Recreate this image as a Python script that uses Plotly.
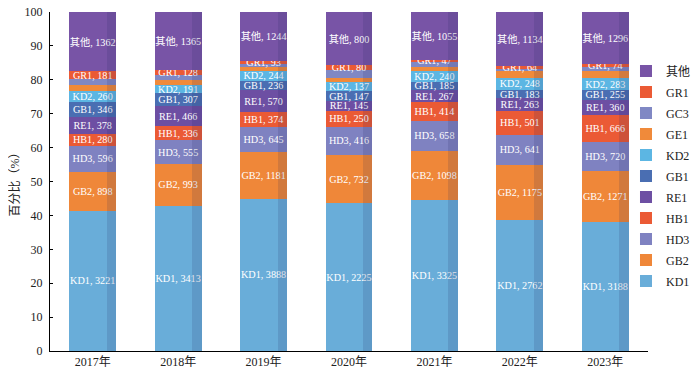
import plotly.graph_objects as go

years = ["2017年", "2018年", "2019年", "2020年", "2021年", "2022年", "2023年"]

KD1 = [3221, 3413, 3888, 2225, 3325, 2762, 3188]
GB2 = [898, 993, 1181, 732, 1098, 1175, 1271]
HD3 = [596, 555, 645, 416, 658, 641, 720]
HB1 = [280, 336, 374, 250, 414, 501, 666]
RE1 = [378, 466, 570, 145, 267, 263, 360]
GB1 = [346, 307, 236, 147, 185, 183, 255]
KD2 = [260, 191, 244, 137, 240, 248, 283]
GE1 = [135, 115, 100, 60, 80, 140, 170]
GC3 = [140, 110, 70, 115, 120, 60, 100]
GR1 = [181, 128, 93, 80, 47, 64, 74]
OTHER = [1362, 1365, 1244, 800, 1055, 1134, 1296]

series = [
    ("KD1", KD1, "#69ADD9", True),
    ("GB2", GB2, "#EF8739", True),
    ("HD3", HD3, "#7F82C1", True),
    ("HB1", HB1, "#EB5A35", True),
    ("RE1", RE1, "#6D4FA3", True),
    ("GB1", GB1, "#4A6EB2", True),
    ("KD2", KD2, "#5CB6E3", True),
    ("GE1", GE1, "#F08A3A", False),
    ("GC3", GC3, "#8088C4", False),
    ("GR1", GR1, "#EB5A35", True),
    ("其他", OTHER, "#7854A6", True),
]

FONT = "Liberation Serif, Times New Roman, Noto Sans CJK SC, serif"

fig = go.Figure()
for i, (name, vals, color, labeled) in enumerate(series):
    fig.add_trace(go.Bar(
        x=years, y=vals, name=name, legendgroup=name,
        legendrank=1000 - i,
        marker=dict(color=color, line=dict(width=0)),
        text=[f"{name}, {v}" for v in vals] if labeled else None,
        textposition="inside" if labeled else "none",
        insidetextanchor="middle",
        textangle=0,
        constraintext="none",
        textfont=dict(color="white", size=10.2, family=FONT),
        width=0.55,
        hoverinfo="skip",
    ))

# darker strip on the right side of each bar (shading effect)
shade = [1] * len(years)
fig.add_trace(go.Bar(
    x=years, y=shade, xaxis="x2", yaxis="y2",
    marker=dict(color="rgba(25,35,95,0.14)", line=dict(width=0)),
    width=0.112, offset=0.163, showlegend=False, hoverinfo="skip",
))

# page body has an 8px default margin, so the figure is sized to fit the window
fig.update_layout(
    width=692, height=364,
    margin=dict(l=42, r=52, t=4, b=21, autoexpand=False),
    barmode="stack", barnorm="percent",
    plot_bgcolor="white", paper_bgcolor="white",
    font=dict(family=FONT, size=12, color="#222"),
    showlegend=True,
    legend=dict(
        x=0.9632, xanchor="left", y=0.869, yanchor="top",
        traceorder="grouped",
        font=dict(size=12, family=FONT, color="#222"),
        bgcolor="rgba(0,0,0,0)",
        tracegroupgap=2,
    ),
    xaxis=dict(
        type="category", range=[-0.5, 6.5],
        showline=True, linecolor="black", linewidth=1,
        ticks="", showgrid=False, zeroline=False, automargin=False,
        tickfont=dict(size=12, family=FONT, color="#222"),
    ),
    xaxis2=dict(
        type="category", range=[-0.5, 6.5], overlaying="x",
        visible=False, showgrid=False,
    ),
    yaxis=dict(
        range=[0, 100], tickvals=list(range(0, 101, 10)),
        showline=True, linecolor="black", linewidth=1,
        ticks="inside", ticklen=3, tickcolor="black",
        showgrid=False, zeroline=False, automargin=False,
        ticklabeloverflow="allow",
        tickfont=dict(size=12, family=FONT, color="#222"),
        ticklabelstandoff=4,
        title=dict(text="百分比（%）", font=dict(size=12, family=FONT, color="#222"), standoff=4),
    ),
    yaxis2=dict(
        range=[0, 100], overlaying="y", visible=False, showgrid=False,
    ),
)

fig.write_html("out.html")
